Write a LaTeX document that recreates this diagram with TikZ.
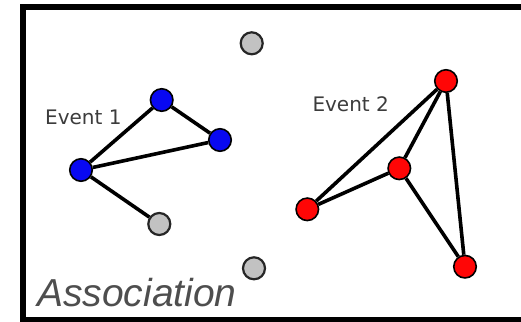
\documentclass[tikz,border=0pt]{standalone}
\usepackage{fontspec}
\setsansfont{DejaVu Sans}
\newfontfamily\assocfont{Liberation Sans}
\usetikzlibrary{positioning}
\definecolor{evblue}{HTML}{0808F2}
\definecolor{evred}{HTML}{FF0606}
\definecolor{nogray}{HTML}{C2C2C2}
\definecolor{lbltext}{HTML}{3C3C3C}
\definecolor{assoctext}{HTML}{4E4E4E}

\begin{document}
\begin{tikzpicture}[
  x=1pt, y=-1pt,
  hit/.style={
    circle, fill=#1, draw=black, line width=1.6pt,
    minimum size=22.5pt, inner sep=0pt
  },
  stray/.style={
    circle, fill=nogray, draw=black!85, line width=2.2pt,
    minimum size=22pt, inner sep=0pt
  },
  link/.style={line width=3.6pt, black},
  evlbl/.style={font=\sffamily\fontsize{20}{24}\selectfont, text=lbltext,
    anchor=base west, inner sep=0pt},
]

% Frame
\clip (0,0) rectangle (521,321);
\fill[white] (0,0) rectangle (521,321);
\draw[black, line width=5.5pt] (23,7) rectangle (540,319.5);

% Event 1 hits
\node[hit=evblue] (b1) at (161.7,100) {};
\node[hit=evblue] (b2) at (220,140) {};
\node[hit=evblue] (b3) at (81,170) {};

% Event 2 hits
\node[hit=evred] (r1) at (446,81) {};
\node[hit=evred] (r2) at (399.3,168.3) {};
\node[hit=evred] (r3) at (307.3,209.3) {};
\node[hit=evred] (r4) at (465,266.7) {};

% Unassociated hits
\node[stray] (g1) at (251.7,43.3) {};
\node[stray] (g2) at (159.3,224) {};
\node[stray] (g3) at (254,268.3) {};

% Links
\draw[link] (b3) -- (b1);
\draw[link] (b1) -- (b2);
\draw[link] (b3) -- (b2);
\draw[link] (b3) -- (g2);

\draw[link] (r1) -- (r3);
\draw[link] (r1) -- (r2);
\draw[link] (r1) -- (r4);
\draw[link] (r2) -- (r3);
\draw[link] (r2) -- (r4);

% Labels
\node[evlbl] (ev1) at (45,124.3) {Event 1};
\node[evlbl] (ev2) at (312.3,111.7) {Event 2};

\node[font=\assocfont\itshape\fontsize{39}{44}\selectfont, text=assoctext,
  anchor=base west, inner sep=0pt] (assoc) at (37,306) {Association};

\end{tikzpicture}
\end{document}
